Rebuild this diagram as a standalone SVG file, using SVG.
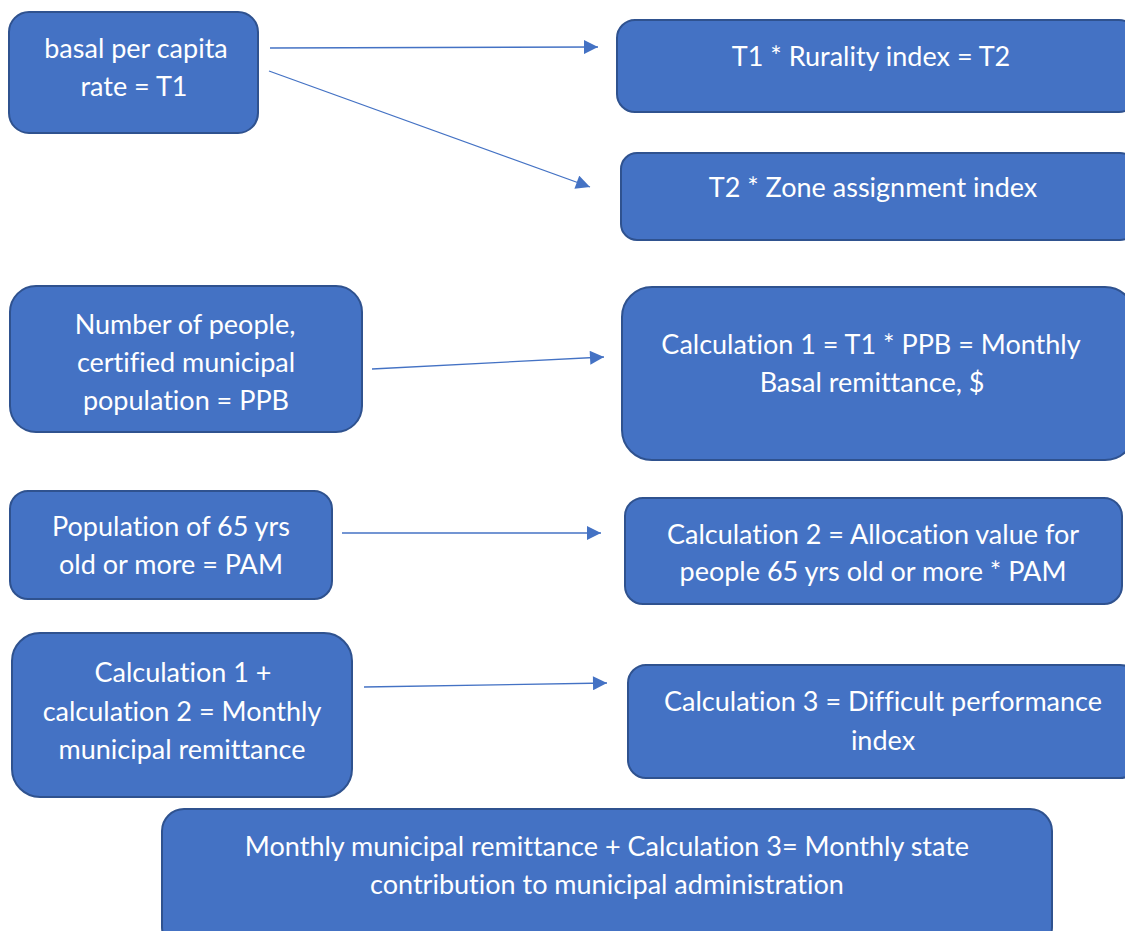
<svg xmlns="http://www.w3.org/2000/svg" width="1125" height="931" viewBox="0 0 1125 931">
<defs>
<style>
.box{fill:#4472C4;stroke:#2F528F;stroke-width:2}
.t{font-family:Lato,"Liberation Sans",sans-serif;font-size:27px;fill:#FFFFFF;text-anchor:middle;font-variant-ligatures:none}
.c{stroke:#4472C4;stroke-width:1.3;fill:none;marker-end:url(#ah)}
</style>
<marker id="ah" viewBox="0 0 10 10" refX="10" refY="5" markerWidth="15" markerHeight="14" markerUnits="userSpaceOnUse" orient="auto">
<path d="M0,0 L10,5 L0,10 z" fill="#4472C4"/>
</marker>
</defs>
<rect width="1125" height="931" fill="#FFFFFF"/>
<g id="connectors">
<line class="c" x1="270" y1="48" x2="598" y2="47"/>
<line class="c" x1="269" y1="71" x2="590" y2="187"/>
<line class="c" x1="372" y1="369" x2="604" y2="357"/>
<line class="c" x1="342" y1="533" x2="601" y2="533"/>
<line class="c" x1="364" y1="687" x2="607" y2="683"/>
</g>
<g id="n1"><rect class="box" x="9" y="12" width="249" height="121" rx="20"/>
<text class="t" x="136" y="58">basal per capita</text><text class="t" x="134" y="96">rate = T1</text></g>
<g id="n2"><rect class="box" x="617" y="20" width="520" height="92" rx="18"/>
<text class="t" x="871" y="66">T1 * Rurality index = T2</text></g>
<g id="n3"><rect class="box" x="621" y="153" width="515" height="87" rx="16"/>
<text class="t" x="873" y="197">T2 * Zone assignment index</text></g>
<g id="n4"><rect class="box" x="10" y="286" width="352" height="146" rx="26"/>
<text class="t" x="185" y="334">Number of people,</text><text class="t" x="186" y="372">certified municipal</text><text class="t" x="186" y="410">population = PPB</text></g>
<g id="n5"><rect class="box" x="622" y="287" width="513" height="173" rx="30"/>
<text class="t" x="871" y="354">Calculation 1 = T1 * PPB = Monthly</text><text class="t" x="872" y="392">Basal remittance, $</text></g>
<g id="n6"><rect class="box" x="10" y="491" width="322" height="108" rx="18"/>
<text class="t" x="171" y="536">Population of 65 yrs</text><text class="t" x="171" y="574">old or more = PAM</text></g>
<g id="n7"><rect class="box" x="625" y="498" width="497" height="106" rx="18"/>
<text class="t" x="873" y="544">Calculation 2 = Allocation value for</text><text class="t" x="873" y="581">people 65 yrs old or more * PAM</text></g>
<g id="n8"><rect class="box" x="12" y="633" width="340" height="164" rx="28"/>
<text class="t" x="183" y="682">Calculation 1 +</text><text class="t" x="182" y="721">calculation 2 = Monthly</text><text class="t" x="182" y="759">municipal remittance</text></g>
<g id="n9"><rect class="box" x="628" y="665" width="510" height="113" rx="18"/>
<text class="t" x="883" y="711">Calculation 3 = Difficult performance</text><text class="t" x="883" y="750">index</text></g>
<g id="n10"><rect class="box" x="162" y="809" width="890" height="140" rx="22"/>
<text class="t" x="607" y="856">Monthly municipal remittance + Calculation 3= Monthly state</text><text class="t" x="607" y="894">contribution to municipal administration</text></g>
</svg>
